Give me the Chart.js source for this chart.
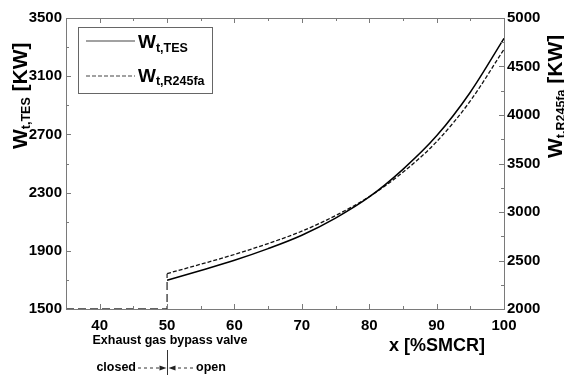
<!DOCTYPE html>
<html>
<head>
<meta charset="utf-8">
<script src="https://cdn.jsdelivr.net/npm/chart.js"></script>
<style>
  html, body { margin: 0; padding: 0; background: #fff; }
</style>
</head>
<body>
<canvas id="chart" width="564" height="375"></canvas>
<script>
// load points, % SMCR
const loadX = [50, 55, 60, 65, 70, 75, 80, 85, 90, 95, 100];
// turbine power, TES (left axis, kW)
const wTES = [1697, 1765, 1835, 1915, 2007, 2125, 2270, 2460, 2690, 2990, 3360];
// turbine power, R245fa (right axis, kW)
const wR245fa = [2365, 2462, 2562, 2675, 2802, 2963, 3158, 3410, 3725, 4145, 4678];
// bypass valve closed part (left axis)
const bypassX = [35, 50, 50];
const bypassY = [1500, 1500, 1743];

const xTicks = [40, 50, 60, 70, 80, 90, 100];
const leftTicks = [1500, 1900, 2300, 2700, 3100, 3500];
const rightTicks = [2000, 2500, 3000, 3500, 4000, 4500, 5000];

const FONT = '"Liberation Sans", Arial, sans-serif';
const AXIS_GRAY = '#7a7a7a';

function pts(xs, ys) {
  return xs.map((x, i) => ({ x: x, y: ys[i] }));
}

// text with a subscript part, drawn left to right from (0,0)
function richText(ctx, parts) {
  let x = 0;
  parts.forEach(p => {
    ctx.font = 'bold ' + p.size + 'px ' + FONT;
    ctx.fillText(p.t, x, p.dy || 0);
    x += ctx.measureText(p.t).width;
  });
}

function minorOf(ticks) {
  const out = [];
  for (let i = 0; i < ticks.length - 1; i++) out.push((ticks[i] + ticks[i + 1]) / 2);
  return out;
}

const decorPlugin = {
  id: 'decor',
  afterDraw(chart) {
    const ctx = chart.ctx;
    const a = chart.chartArea;
    const sx = chart.scales.x, sl = chart.scales.yL, sr = chart.scales.yR;
    ctx.save();

    // frame
    ctx.strokeStyle = AXIS_GRAY;
    ctx.lineWidth = 1;
    ctx.strokeRect(Math.round(a.left) + 0.5, Math.round(a.top) + 0.5,
      Math.round(a.right - a.left), Math.round(a.bottom - a.top));

    // inward ticks
    ctx.beginPath();
    xTicks.forEach(v => {
      const p = Math.round(sx.getPixelForValue(v)) + 0.5;
      ctx.moveTo(p, a.bottom); ctx.lineTo(p, a.bottom - 5);
      ctx.moveTo(p, a.top); ctx.lineTo(p, a.top + 5);
    });
    minorOf(xTicks).forEach(v => {
      const p = Math.round(sx.getPixelForValue(v)) + 0.5;
      ctx.moveTo(p, a.bottom); ctx.lineTo(p, a.bottom - 3);
      ctx.moveTo(p, a.top); ctx.lineTo(p, a.top + 3);
    });
    leftTicks.forEach(v => {
      const p = Math.round(sl.getPixelForValue(v)) + 0.5;
      ctx.moveTo(a.left, p); ctx.lineTo(a.left + 5, p);
    });
    minorOf(leftTicks).forEach(v => {
      const p = Math.round(sl.getPixelForValue(v)) + 0.5;
      ctx.moveTo(a.left, p); ctx.lineTo(a.left + 3, p);
    });
    rightTicks.forEach(v => {
      const p = Math.round(sr.getPixelForValue(v)) + 0.5;
      ctx.moveTo(a.right, p); ctx.lineTo(a.right - 5, p);
    });
    minorOf(rightTicks).forEach(v => {
      const p = Math.round(sr.getPixelForValue(v)) + 0.5;
      ctx.moveTo(a.right, p); ctx.lineTo(a.right - 3, p);
    });
    ctx.stroke();

    // legend
    ctx.strokeStyle = '#666';
    ctx.strokeRect(78.5, 27.5, 134, 66);
    ctx.strokeStyle = '#444';
    ctx.lineWidth = 1.2;
    ctx.beginPath(); ctx.moveTo(86, 41); ctx.lineTo(135, 41); ctx.stroke();
    ctx.setLineDash([4, 2]);
    ctx.beginPath(); ctx.moveTo(86, 76); ctx.lineTo(135, 76); ctx.stroke();
    ctx.setLineDash([]);
    ctx.fillStyle = '#000';
    ctx.textBaseline = 'alphabetic';
    ctx.textAlign = 'left';
    ctx.save(); ctx.translate(138, 48);
    richText(ctx, [{ t: 'W', size: 19 }, { t: 't,TES', size: 12.5, dy: 4 }]);
    ctx.restore();
    ctx.save(); ctx.translate(138, 82);
    richText(ctx, [{ t: 'W', size: 19 }, { t: 't,R245fa', size: 12.5, dy: 3 }]);
    ctx.restore();

    // axis titles
    ctx.save(); ctx.translate(27, 149); ctx.rotate(-Math.PI / 2);
    richText(ctx, [{ t: 'W', size: 21 }, { t: 't,TES', size: 12.5, dy: 3 }, { t: ' [KW]', size: 21 }]);
    ctx.restore();
    ctx.save(); ctx.translate(562, 158); ctx.rotate(-Math.PI / 2);
    richText(ctx, [{ t: 'W', size: 21 }, { t: 't,R245fa', size: 12.5, dy: 3 }, { t: ' [KW]', size: 21 }]);
    ctx.restore();

    ctx.font = 'bold 18px ' + FONT;
    ctx.textAlign = 'center';
    ctx.textBaseline = 'middle';
    ctx.fillText('x [%SMCR]', 437, 346);

    // bypass valve note
    const x50 = Math.round(sx.getPixelForValue(50)) + 0.5;
    ctx.font = 'bold 12.5px ' + FONT;
    ctx.fillText('Exhaust gas bypass valve', 170, 341);
    ctx.textAlign = 'right';
    ctx.fillText('closed', 136, 368);
    ctx.textAlign = 'left';
    ctx.fillText('open', 196, 368);
    ctx.strokeStyle = '#333';
    ctx.lineWidth = 1;
    ctx.beginPath(); ctx.moveTo(x50, 350); ctx.lineTo(x50, 375); ctx.stroke();
    ctx.setLineDash([3, 3]);
    ctx.beginPath();
    ctx.moveTo(138, 368); ctx.lineTo(159, 368);
    ctx.moveTo(193, 368); ctx.lineTo(173, 368);
    ctx.stroke();
    ctx.setLineDash([]);
    ctx.fillStyle = '#222';
    ctx.beginPath();
    ctx.moveTo(x50 - 1, 368); ctx.lineTo(x50 - 8, 365.5); ctx.lineTo(x50 - 8, 370.5); ctx.closePath();
    ctx.moveTo(x50 + 1, 368); ctx.lineTo(x50 + 8, 365.5); ctx.lineTo(x50 + 8, 370.5); ctx.closePath();
    ctx.fill();

    ctx.restore();
  }
};

const tickFont = { family: FONT, size: 15, weight: 'bold' };
const plain = v => String(v);

new Chart(document.getElementById('chart'), {
  type: 'line',
  data: {
    datasets: [
      {
        label: 'bypass',
        data: pts(bypassX, bypassY),
        yAxisID: 'yL',
        borderColor: '#333',
        borderWidth: 1.3,
        borderDash: [8, 4],
        pointRadius: 0,
        tension: 0
      },
      {
        label: 'Wt,TES',
        data: pts(loadX, wTES),
        yAxisID: 'yL',
        borderColor: '#000',
        borderWidth: 1.5,
        pointRadius: 0,
        cubicInterpolationMode: 'monotone'
      },
      {
        label: 'Wt,R245fa',
        data: pts(loadX, wR245fa),
        yAxisID: 'yR',
        borderColor: '#111',
        borderWidth: 1.3,
        borderDash: [4, 2],
        pointRadius: 0,
        cubicInterpolationMode: 'monotone'
      }
    ]
  },
  options: {
    responsive: false,
    animation: false,
    devicePixelRatio: 1,
    layout: { padding: { top: 18, left: 0, right: 0, bottom: 0 } },
    plugins: { legend: { display: false }, tooltip: { enabled: false } },
    scales: {
      x: {
        type: 'linear',
        position: 'bottom',
        min: 35,
        max: 100,
        grid: { display: false, drawTicks: false },
        border: { display: false },
        ticks: { font: tickFont, color: '#000', padding: 8, maxRotation: 0, callback: plain },
        afterBuildTicks: s => { s.ticks = xTicks.map(v => ({ value: v })); },
        afterFit: s => { s.height = 66; }
      },
      yL: {
        type: 'linear',
        position: 'left',
        min: 1500,
        max: 3500,
        grid: { display: false, drawTicks: false },
        border: { display: false },
        ticks: { font: tickFont, color: '#000', padding: 4, callback: plain },
        afterBuildTicks: s => { s.ticks = leftTicks.map(v => ({ value: v })); },
        afterFit: s => { s.width = 66; }
      },
      yR: {
        type: 'linear',
        position: 'right',
        min: 2000,
        max: 5000,
        grid: { display: false, drawTicks: false },
        border: { display: false },
        ticks: { font: tickFont, color: '#000', padding: 3, callback: plain },
        afterBuildTicks: s => { s.ticks = rightTicks.map(v => ({ value: v })); },
        afterFit: s => { s.width = 60; }
      }
    }
  },
  plugins: [decorPlugin]
});
</script>
</body>
</html>
